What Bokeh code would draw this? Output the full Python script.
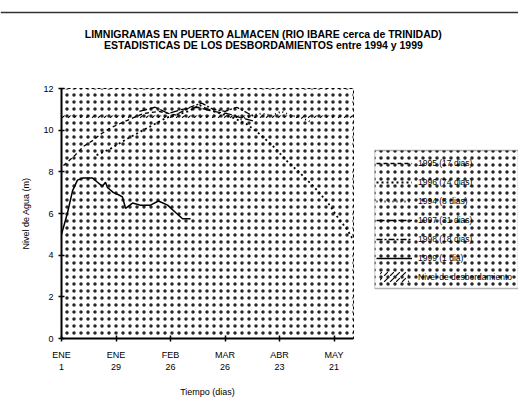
from bokeh.plotting import figure
from bokeh.layouts import column, row
from bokeh.models import Range1d, Label, Span, BoxAnnotation, Legend, FixedTicker
from bokeh.embed import file_html
from bokeh.resources import INLINE

FONT = "Liberation Sans"

# ---- data (days since 1 Jan, water level in m) ----
tick_days = [0, 28, 56, 84, 112, 140]
tick_labels = ["ENE\n1", "ENE\n29", "FEB\n26", "MAR\n26", "ABR\n23", "MAY\n21"]

d1999 = [0, 3, 5.7, 8.2, 10.8, 13.4, 16, 18.5, 21, 22.6, 23.6, 26.7, 29.3, 31.3, 32.9, 36.5, 40.6, 45.7, 49.8, 54.5, 58.6, 62.2, 66.3]
v1999 = [5.0, 6.0, 7.1, 7.6, 7.7, 7.7, 7.7, 7.5, 7.3, 7.5, 7.25, 7.0, 6.9, 6.8, 6.25, 6.5, 6.4, 6.4, 6.6, 6.4, 6.05, 5.75, 5.75]

d1996 = [18, 25, 34, 44, 54, 65, 71, 75, 80, 88, 95, 102, 109, 116, 123, 130, 137, 142, 147, 150]
v1996 = [8.8, 9.1, 9.6, 10.1, 10.6, 10.9, 11.2, 11.0, 10.85, 10.6, 10.3, 9.8, 9.2, 8.5, 7.9, 7.25, 6.5, 5.8, 5.2, 4.7]

d1995 = [1, 7, 11, 16, 20, 25, 32, 37, 42, 50, 60]
v1995 = [8.3, 8.8, 9.2, 9.5, 9.8, 10.1, 10.4, 10.6, 10.8, 10.9, 10.7]

d1997 = [40, 48, 55, 62, 70, 78, 85, 92, 100]
v1997 = [10.9, 11.1, 10.8, 11.0, 11.1, 10.9, 10.8, 10.6, 10.4]

d1998 = [60, 66, 72, 78, 84, 90, 96, 100]
v1998 = [10.8, 11.1, 11.3, 11.0, 10.9, 11.1, 10.8, 10.6]

d1994 = [92, 97, 103, 108, 113, 118, 123, 128]
v1994 = [10.5, 10.7, 10.8, 10.7, 10.9, 10.7, 10.6, 10.4]

nivel_x = [0, 150]
nivel_lo = [10.5, 10.5]
nivel_hi = [10.7, 10.7]

series = [
    ("1995 (17 dias)", d1995, v1995, dict(line_dash="4 3", line_width=1.3)),
    ("1996 (74 dias)", d1996, v1996, dict(line_dash="2 3", line_width=1.8)),
    ("1994 (8 dias)", d1994, v1994, dict(line_dash="1 3", line_width=1.8)),
    ("1997 (31 dias)", d1997, v1997, dict(line_dash="8 3", line_width=1.3)),
    ("1998 (18 dias)", d1998, v1998, dict(line_dash="6 2 2 2", line_width=1.3)),
    ("1999 (1 dia)", d1999, v1999, dict(line_width=1.5)),
]

HATCH = dict(hatch_pattern="dot", hatch_color="black", hatch_scale=7, hatch_weight=1.0, hatch_alpha=0.85)

# ---- title strip ----
pt = figure(width=518, height=70, x_range=Range1d(0, 518), y_range=Range1d(70, 0),
            output_backend="svg", toolbar_location=None, min_border=0,
            x_axis_type=None, y_axis_type=None, outline_line_color=None)
pt.grid.visible = False
pt.add_layout(Span(location=12, dimension="width", line_color="#333333", line_width=1.5))
for txt, yy in [("LIMNIGRAMAS EN PUERTO ALMACEN (RIO IBARE cerca de TRINIDAD)", 33),
                ("ESTADISTICAS DE LOS DESBORDAMIENTOS entre 1994 y 1999", 44)]:
    pt.add_layout(Label(x=263, y=yy, text=txt, text_align="center", text_baseline="middle",
                        text_font=FONT, text_font_size="10.5px", text_font_style="bold",
                        text_color="black"))

# ---- main chart ----
p = figure(width=370, height=340, x_range=Range1d(0, 150), y_range=Range1d(0, 12),
           output_backend="svg", toolbar_location=None,
           min_border_left=61, min_border_right=17, min_border_top=18, min_border_bottom=72,
           outline_line_color="black", outline_line_dash="3 3", outline_line_width=1)
p.grid.visible = False
p.add_layout(BoxAnnotation(fill_alpha=0, line_alpha=0, **HATCH))

p.varea(x=nivel_x, y1=nivel_lo, y2=nivel_hi, fill_alpha=0, hatch_pattern="right_diagonal_dash",
        hatch_color="black", hatch_scale=6, hatch_weight=1.1)
for name, xs, ys, st in series:
    p.line(xs, ys, line_color="black", **st)

p.xaxis.ticker = FixedTicker(ticks=tick_days)
p.xaxis.major_label_overrides = {d: l for d, l in zip(tick_days, tick_labels)}
p.yaxis.ticker = FixedTicker(ticks=[0, 2, 4, 6, 8, 10, 12])
for ax in (p.xaxis[0], p.yaxis[0]):
    ax.axis_line_width = 2
    ax.axis_line_color = "black"
    ax.major_tick_in = 3
    ax.major_tick_out = 3
    ax.major_tick_line_width = 1.5
    ax.minor_tick_line_color = None
    ax.major_label_text_font = FONT
    ax.major_label_text_font_size = "9px"
    ax.major_label_text_color = "black"
    ax.axis_label_text_font = FONT
    ax.axis_label_text_font_size = "9px"
    ax.axis_label_text_font_style = "normal"
    ax.axis_label_text_color = "black"
p.xaxis.axis_label = "Tiempo (dias)"
p.yaxis.axis_label = "Nivel de Agua (m)"
p.xaxis.major_label_standoff = 8
p.xaxis.axis_label_standoff = 12
p.yaxis.major_label_standoff = 5
p.yaxis.axis_label_standoff = 9

# ---- legend panel (frame same size as main frame; box drawn inside) ----
pl = figure(width=148, height=340, x_range=Range1d(0, 144), y_range=Range1d(250, 0),
            output_backend="svg", toolbar_location=None,
            min_border_left=4, min_border_right=0, min_border_top=18, min_border_bottom=72,
            x_axis_type=None, y_axis_type=None, outline_line_color=None)
pl.grid.visible = False
# off-screen range so the legend proxies carry data but draw nothing in this panel
pl.extra_x_ranges = {"off": Range1d(1000, 1100)}
pl.add_layout(BoxAnnotation(left=0, right=144, top=62, bottom=200, fill_alpha=0,
                            line_color="black", line_width=1.5, **HATCH))
items = []
for name, xs, ys, st in series:
    r = pl.line(xs, ys, line_color="black", x_range_name="off", **st)
    items.append((name, [r]))
rq = pl.varea(x=nivel_x, y1=nivel_lo, y2=nivel_hi, fill_alpha=0, x_range_name="off",
              hatch_pattern="right_diagonal_dash", hatch_color="black", hatch_scale=6,
              hatch_weight=1.1)
items.append(("Nivel de desbordamiento", [rq]))
leg = Legend(items=items, location=(2, 53), margin=0, padding=2, spacing=2,
             label_height=17, glyph_height=14, glyph_width=36, label_standoff=6,
             label_text_font=FONT, label_text_font_size="8.5px", label_text_color="black",
             background_fill_alpha=0, border_line_color=None)
pl.add_layout(leg)

layout = column(pt, row(p, pl, spacing=0), spacing=0)
open("out.html", "w").write(file_html(layout, INLINE))
